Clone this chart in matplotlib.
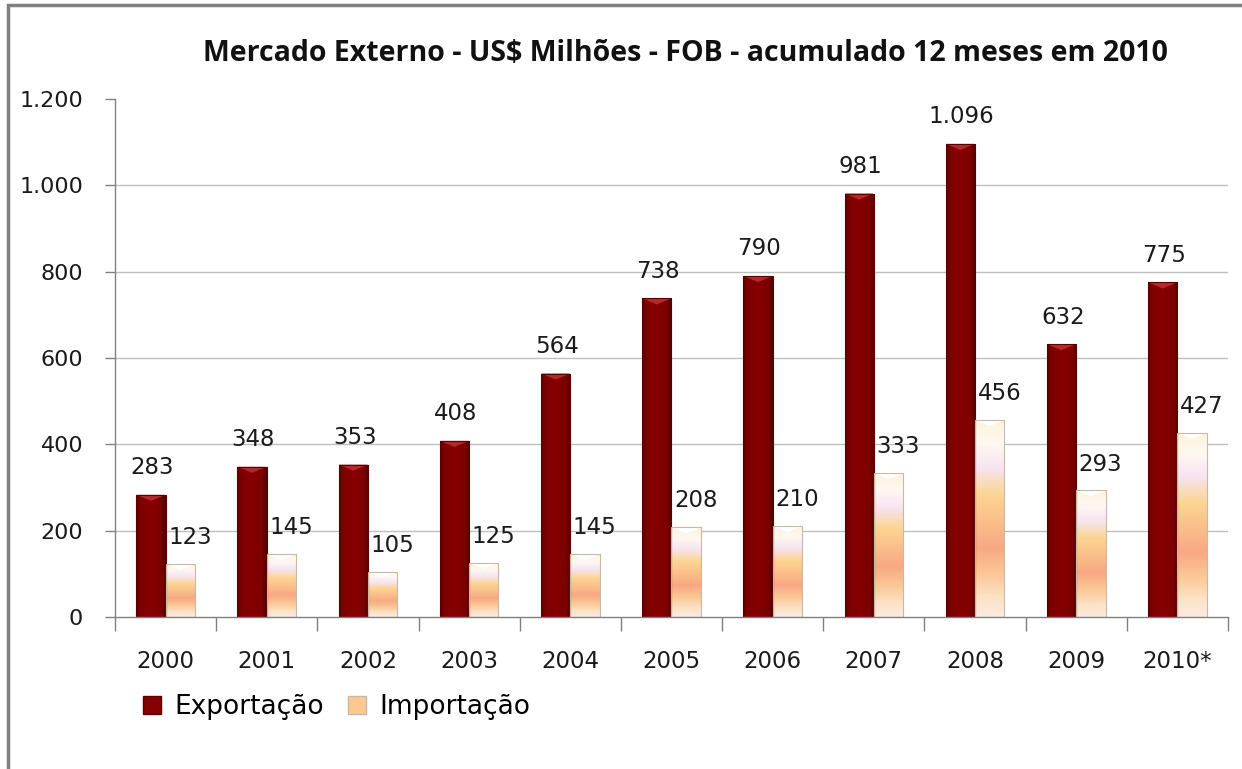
import numpy as np
import matplotlib
matplotlib.use("Agg")
import matplotlib.pyplot as plt
from matplotlib.patches import Rectangle
from matplotlib.colors import LinearSegmentedColormap

categories = ["2000", "2001", "2002", "2003", "2004", "2005", "2006", "2007", "2008", "2009", "2010*"]
exportacao = [283, 348, 353, 408, 564, 738, 790, 981, 1096, 632, 775]
importacao = [123, 145, 105, 125, 145, 208, 210, 333, 456, 293, 427]
yticks = [0, 200, 400, 600, 800, 1000, 1200]
ytick_labels = ["0", "200", "400", "600", "800", "1.000", "1.200"]
title = "Mercado Externo - US$ Milhões - FOB - acumulado 12 meses em 2010"

def fmt(v):
    return f"{v:,}".replace(",", ".")

fig = plt.figure(figsize=(12.42, 7.69), dpi=100)
# outer border
fig.patches.append(Rectangle((0.0065, -0.01), 1.2, 1.004, transform=fig.transFigure,
                             fill=False, edgecolor="#808080", linewidth=2.5))

ax = fig.add_axes([0.0926, 0.1977, 0.8961, 0.6736])
ax.set_xlim(-0.5, len(categories) - 0.5)
ax.set_ylim(0, 1200)

x = np.arange(len(categories))
w = 0.29

# gradients
imp_cmap = LinearSegmentedColormap.from_list("imp", [
    (0.0, "#FCEBE0"), (0.10, "#FCE2C4"), (0.22, "#FBC795"), (0.35, "#F8A883"),
    (0.52, "#FBC58C"), (0.62, "#FCD592"), (0.76, "#F7E4F2"), (0.88, "#FFF8F0"), (1.0, "#FDF3DC")])
exp_cmap = LinearSegmentedColormap.from_list("exp", [
    (0.0, "#5E0000"), (0.15, "#7E0000"), (0.5, "#880000"), (0.85, "#7A0000"), (1.0, "#4F0000")])
vert = np.linspace(0, 1, 256).reshape(-1, 1)
horiz = np.linspace(0, 1, 64).reshape(1, -1)

ax.set_axisbelow(True)
for yv in yticks[1:-1]:
    ax.axhline(yv, color="#BFBFBF", linewidth=1.0, zorder=0)

bars_e = ax.bar(x - w / 2, exportacao, width=w, color="#850000", edgecolor="none", zorder=2)
bars_i = ax.bar(x + w / 2, importacao, width=w, color="#FBC990", edgecolor="none", zorder=2)

for b in bars_e:
    x0, y0, bw, bh = b.get_x(), b.get_y(), b.get_width(), b.get_height()
    im = ax.imshow(horiz, cmap=exp_cmap, aspect="auto", origin="lower",
                   extent=[x0, x0 + bw, y0, y0 + bh], zorder=2.1)
    im.set_clip_path(b)
    # lighter top bevel
    ax.fill([x0, x0 + bw, x0 + bw * 0.5], [y0 + bh, y0 + bh, y0 + bh - 14],
            color="#B42A2A", zorder=2.2, linewidth=0)
    ax.add_patch(Rectangle((x0, y0), bw, bh, fill=False, edgecolor="#5A0000", linewidth=0.8, zorder=2.3))

for b in bars_i:
    x0, y0, bw, bh = b.get_x(), b.get_y(), b.get_width(), b.get_height()
    im = ax.imshow(vert, cmap=imp_cmap, aspect="auto", origin="lower",
                   extent=[x0, x0 + bw, y0, y0 + bh], zorder=2.1)
    im.set_clip_path(b)
    ax.fill([x0, x0 + bw, x0 + bw * 0.5], [y0 + bh, y0 + bh, y0 + bh - 14],
            color="#FFFFFF", zorder=2.2, linewidth=0)
    ax.add_patch(Rectangle((x0, y0), bw, bh, fill=False, edgecolor="#C8B8A8", linewidth=0.8, zorder=2.3))

for xi, v in zip(x, exportacao):
    ax.annotate(fmt(v), (xi - w / 2, v), xytext=(1, 19.5), textcoords="offset points",
                ha="center", va="center", fontsize=16.5, color="#1a1a1a", zorder=5)
for xi, v in zip(x, importacao):
    ax.annotate(fmt(v), (xi + w / 2, v), xytext=(7, 19), textcoords="offset points",
                ha="center", va="center", fontsize=16.5, color="#1a1a1a", zorder=5)

ax.set_yticks(yticks)
ax.set_yticklabels(ytick_labels, fontsize=16, color="#1a1a1a")
ax.set_xticks(x)
ax.set_xticklabels(categories, fontsize=16.5, color="#1a1a1a")
ax.tick_params(axis="x", length=0, pad=24)
ax.tick_params(axis="y", length=7, width=1, color="#808080", pad=16)
ax.set_xticks(np.arange(len(categories) + 1) - 0.5, minor=True)
ax.tick_params(axis="x", which="minor", length=10, width=1, color="#808080", direction="out")

for s in ["top", "right"]:
    ax.spines[s].set_visible(False)
for s in ["left", "bottom"]:
    ax.spines[s].set_color("#808080")
    ax.spines[s].set_linewidth(1.0)

fig.text(0.552, 0.931, title, ha="center", va="center", fontsize=20.5,
         fontweight="bold", family="Open Sans", color="#111111")

# legend
leg_handles = [Rectangle((0, 0), 1, 1, facecolor="#850000", edgecolor="#5A0000"),
               Rectangle((0, 0), 1, 1, facecolor="#FBC990", edgecolor="#C8B8A8")]
fig.legend(leg_handles, ["Exportação", "Importação"], loc="center left",
           bbox_to_anchor=(0.096, 0.080), ncol=2, frameon=False, fontsize=19,
           handlelength=0.7, handleheight=0.7, handletextpad=0.5, columnspacing=0.9)

fig.savefig("out.png", dpi=100)
